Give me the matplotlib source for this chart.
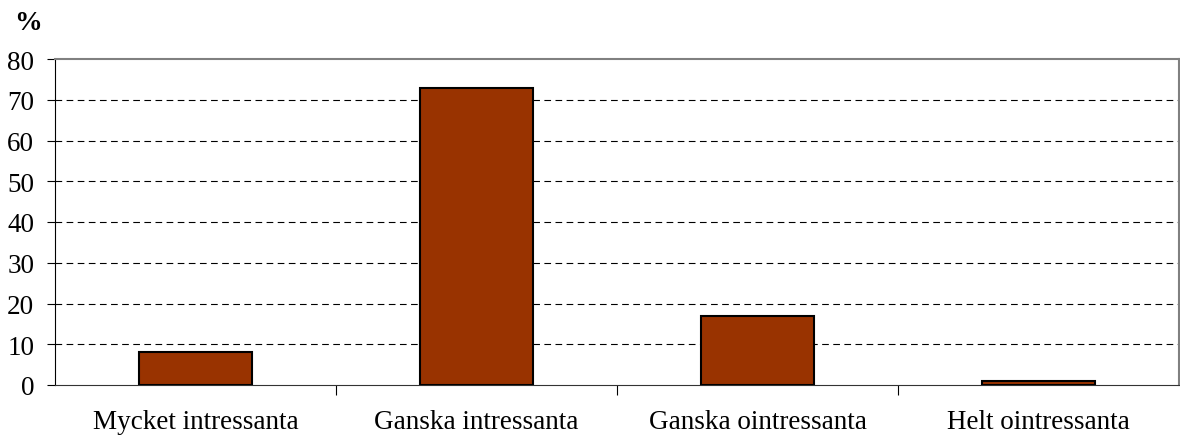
import matplotlib.pyplot as plt
import numpy as np

categories = ["Mycket intressanta", "Ganska intressanta", "Ganska ointressanta", "Helt ointressanta"]
values = [8, 73, 17, 1]
yticks = [0, 10, 20, 30, 40, 50, 60, 70, 80]

plt.rcParams['font.family'] = ['Liberation Serif', 'DejaVu Serif']

fig = plt.figure(figsize=(11.8, 4.39), dpi=100)
ax = fig.add_axes([55/1180, 53/439, 1124/1180, 326/439])

x = np.arange(len(categories))
ax.bar(x, values, width=0.4, color="#993300", edgecolor="black", linewidth=1.5, zorder=3)

ax.set_xlim(-0.5, len(categories) - 0.5)
ax.set_ylim(0, 80)
ax.set_yticks(yticks)
ax.set_yticklabels([str(v) for v in yticks], fontsize=19.5)
for v in yticks[1:-1]:
    ax.axhline(v, color="black", linewidth=0.8, linestyle=(0, (6, 4)), zorder=1)

# category boundary ticks (interior only)
ax.set_xticks(np.arange(1, len(categories)) - 0.5)
ax.set_xticklabels([])
ax.set_xticks(x, minor=True)
ax.set_xticklabels(categories, minor=True, fontsize=19.5)
ax.tick_params(axis="x", which="minor", length=0, pad=17)
ax.tick_params(axis="x", which="major", length=7, direction="out", color="black")
ax.tick_params(axis="y", length=6, direction="out", pad=9)

ax.spines["top"].set_color("#808080")
ax.spines["top"].set_linewidth(1.5)
ax.spines["right"].set_color("#808080")
ax.spines["right"].set_linewidth(1.5)
ax.spines["left"].set_color("black")
ax.spines["bottom"].set_color("#333333")

fig.text(14/1180, 1 - 23/439, "%", fontsize=20, fontweight="bold", va="center", ha="left")

fig.savefig("out.png", dpi=100)
